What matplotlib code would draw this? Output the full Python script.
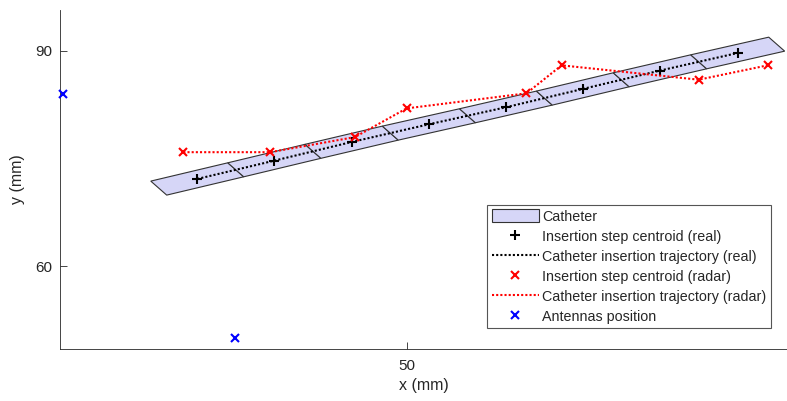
import numpy as np
import matplotlib
matplotlib.use("Agg")
import matplotlib.pyplot as plt
from matplotlib.patches import Polygon

# real insertion step centroids (mm)
real_x = [20.74, 31.47, 42.25, 53.02, 63.75, 74.44, 85.16, 96.03]
real_y = [72.17, 74.72, 77.32, 79.79, 82.16, 84.71, 87.26, 89.72]

# radar estimated centroids (mm)
radar_x = [18.8, 30.9, 42.7, 49.9, 66.6, 71.5, 90.6, 100.2]
radar_y = [75.9, 75.9, 78.0, 82.0, 84.1, 88.0, 86.0, 88.0]

# antennas (mm)
ant_x = [2.0, 26.0]
ant_y = [84.0, 50.0]

# catheter half-width vector (mm)
half_w = np.array([-1.11, 0.975])

plt.rcParams["font.family"] = ["Liberation Sans", "DejaVu Sans"]
txt = "#262626"

fig = plt.figure(figsize=(7.87, 4.01), dpi=100)
ax = fig.add_axes([60.5 / 787, 52.3 / 401, 1 - 60.5 / 787, 338.7 / 401])

c = np.column_stack([real_x, real_y])
bounds = np.vstack([c[0] - (c[1] - c[0]) / 2,
                    (c[:-1] + c[1:]) / 2,
                    c[-1] + (c[-1] - c[-2]) / 2])
for i in range(len(c)):
    a, b = bounds[i], bounds[i + 1]
    poly = Polygon([a - half_w, b - half_w, b + half_w, a + half_w],
                   closed=True, facecolor="#d6d6f7", edgecolor="#333333",
                   linewidth=0.8, label="Catheter" if i == 0 else None, zorder=1)
    ax.add_patch(poly)

ax.plot(real_x, real_y, "+", color="black", markersize=7.5, mew=1.5,
        label="Insertion step centroid (real)", zorder=3)
ax.plot(real_x, real_y, color="black", linestyle=(0, (1, 1)), linewidth=1.5,
        label="Catheter insertion trajectory (real)", zorder=2)
ax.plot(radar_x, radar_y, "x", color="red", markersize=6, mew=1.5,
        label="Insertion step centroid (radar)", zorder=5)
ax.plot(radar_x, radar_y, color="red", linestyle=(0, (1, 1)), linewidth=1.5,
        label="Catheter insertion trajectory (radar)", zorder=4)
ax.plot(ant_x, ant_y, "x", color="blue", markersize=6, mew=1.5,
        label="Antennas position", zorder=5, clip_on=False)

ax.set_xlim(1.69, 102.9)
ax.set_ylim(48.52, 95.71)
ax.set_xticks([50])
ax.set_yticks([60, 90])
ax.tick_params(direction="in", length=5, width=0.6, colors=txt, labelsize=11)
ax.tick_params(axis="x", pad=7.5)
ax.tick_params(axis="y", pad=6)
for s in ["top", "right"]:
    ax.spines[s].set_visible(False)
for s in ["left", "bottom"]:
    ax.spines[s].set_color(txt)
    ax.spines[s].set_linewidth(0.6)

ax.set_xlabel("x (mm)", fontsize=11.5, color=txt, labelpad=3.5)
ax.set_ylabel("y (mm)", fontsize=11.5, color=txt, labelpad=7)

leg = ax.legend(loc="upper left", bbox_to_anchor=(487.3 / 787, 1 - 205 / 401),
                bbox_transform=fig.transFigure, fontsize=10.3,
                handlelength=3.3, handleheight=1.0, handletextpad=0.25,
                labelspacing=0.4, borderpad=0.3, borderaxespad=0,
                fancybox=False, framealpha=1, numpoints=1)
leg.get_frame().set_edgecolor("#555555")
leg.get_frame().set_linewidth(0.8)
for t in leg.get_texts():
    t.set_color(txt)

fig.savefig("out.png", dpi=100)
